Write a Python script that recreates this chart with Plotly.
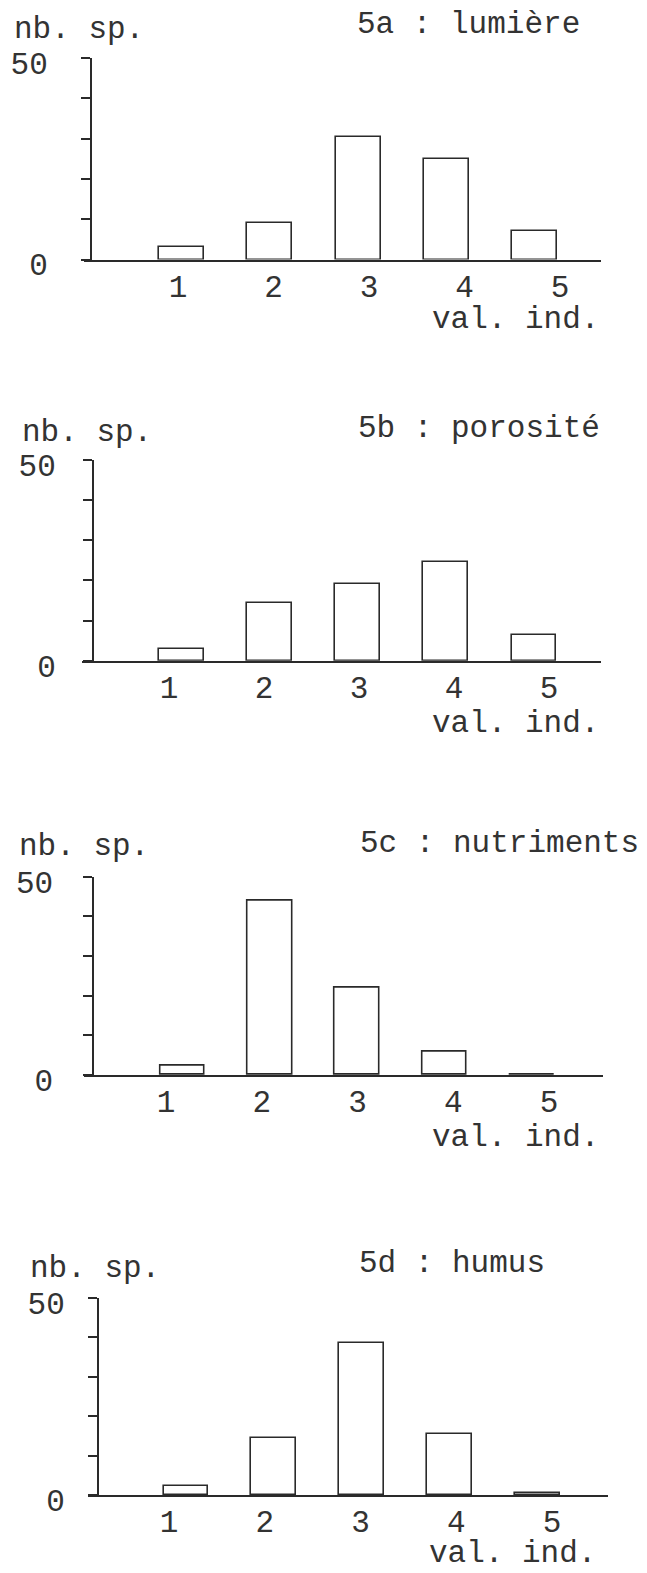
import plotly.graph_objects as go

# ---- data ----
categories = ["1", "2", "3", "4", "5"]
x_values = [1, 2, 3, 4, 5]
panel_titles = ["5a : lumière", "5b : porosité", "5c : nutriments", "5d : humus"]
lumiere = [3, 9, 30.5, 25, 7]
porosite = [3, 14.5, 19, 24.5, 6.5]
nutriments = [2.3, 44, 22, 5.8, 0]
humus = [2.3, 14.5, 38.6, 15.5, 0.4]
y_tick_values = [0, 10, 20, 30, 40, 50]
y_tick_text = ["0", "", "", "", "", "50"]
y_label = "nb. sp."
x_label = "val. ind."

series = [lumiere, porosite, nutriments, humus]

# ---- geometry (pixels in the 647 x 1573 window) ----
W, H = 647, 1573
OFF = 8  # page body margin: the figure starts 8 px in from the window corner
geo = [
    dict(zero=259.5, top=58, yx=91, xl=84, xr=601, c1=181.5, c5=534.5, l1=178, l5=560,
         nb=(12, 38), title=(355, 33), val=(430, 328), ystand=27),
    dict(zero=660.7, top=460, yx=93, xl=82, xr=601, c1=181.5, c5=534, l1=169, l5=549,
         nb=(20, 440.7), title=(356, 436.7), val=(430, 732), ystand=21),
    dict(zero=1075, top=876.7, yx=93.4, xl=83.5, xr=603, c1=182.5, c5=531.8, l1=166, l5=549,
         nb=(17, 855), title=(358, 852), val=(430, 1146), ystand=24),
    dict(zero=1495, top=1298, yx=98, xl=88, xr=608, c1=186, c5=537.5, l1=169, l5=552,
         nb=(28, 1277), title=(357, 1272), val=(427, 1562), ystand=17),
]

FONT = "Liberation Mono"
FS = 31
TXT = "#333333"
LINE = "#2a2a2a"


def px(x):
    return (x - OFF) / W


def py(y):
    return 1 - (y - OFF) / H


def rng(p1, p5, left, right):
    s = (p5 - p1) / 4.0
    return [1 - (p1 - left) / s, 5 + (right - p5) / s]


fig = go.Figure()
layout = dict(
    template="none",
    width=W, height=H, autosize=False,
    margin=dict(l=0, r=0, t=0, b=0, pad=0, autoexpand=False),
    paper_bgcolor="white", plot_bgcolor="rgba(0,0,0,0)",
    showlegend=False, bargap=0,
    font=dict(family=FONT, size=FS, color=TXT),
)
annotations = []

for i, (vals, g, title) in enumerate(zip(series, geo, panel_titles)):
    xa = 2 * i + 1
    xb = 2 * i + 2
    ya = i + 1
    xname_a = "x" if xa == 1 else f"x{xa}"
    xname_b = f"x{xb}"
    yname = "y" if ya == 1 else f"y{ya}"
    dom_x = [px(g["xl"]), px(g["xr"])]
    dom_y = [py(g["zero"]), py(g["top"])]

    fig.add_trace(go.Bar(
        x=x_values, y=vals, width=0.51,
        marker=dict(color="white", line=dict(color=LINE, width=1.6)),
        xaxis=xname_a, yaxis=yname, hoverinfo="skip",
    ))
    # invisible trace carrying the category labels axis
    fig.add_trace(go.Scatter(
        x=x_values, y=[None] * 5, mode="markers",
        xaxis=xname_b, yaxis=yname, hoverinfo="skip", showlegend=False,
    ))

    layout["xaxis" if xa == 1 else f"xaxis{xa}"] = dict(
        domain=dom_x, anchor=yname, range=rng(g["c1"], g["c5"], g["xl"], g["xr"]),
        showline=True, linecolor=LINE, linewidth=2, ticks="", showticklabels=False,
        showgrid=False, zeroline=False, fixedrange=True, automargin=False,
    )
    layout[f"xaxis{xb}"] = dict(
        domain=dom_x, anchor=yname, overlaying=xname_a,
        range=rng(g["l1"], g["l5"], g["xl"], g["xr"]),
        tickmode="array", tickvals=x_values, ticktext=categories,
        showline=False, ticks="", showgrid=False, zeroline=False,
        ticklabelstandoff=5, tickfont=dict(family=FONT, size=FS, color=TXT),
        fixedrange=True, automargin=False,
    )
    layout["yaxis" if ya == 1 else f"yaxis{ya}"] = dict(
        domain=dom_y, anchor="free", position=px(g["yx"]), range=[0, 50],
        tickmode="array", tickvals=y_tick_values, ticktext=y_tick_text,
        ticks="outside", ticklen=9, tickwidth=1.6, tickcolor=LINE,
        showline=True, linecolor=LINE, linewidth=2,
        showgrid=False, zeroline=False, ticklabelstandoff=g["ystand"],
        ticklabelshift=5,
        tickfont=dict(family=FONT, size=FS, color=TXT), fixedrange=True,
        automargin=False,
    )

    for text, (x0, base) in ((y_label, g["nb"]), (title, g["title"]), (x_label, g["val"])):
        annotations.append(dict(
            text=text, xref="paper", yref="paper", x=px(x0), y=py(base - 8.4),
            xanchor="left", yanchor="middle", showarrow=False,
            font=dict(family=FONT, size=FS, color=TXT),
        ))

layout["annotations"] = annotations
fig.update_layout(**layout)
fig.write_html("out.html")
